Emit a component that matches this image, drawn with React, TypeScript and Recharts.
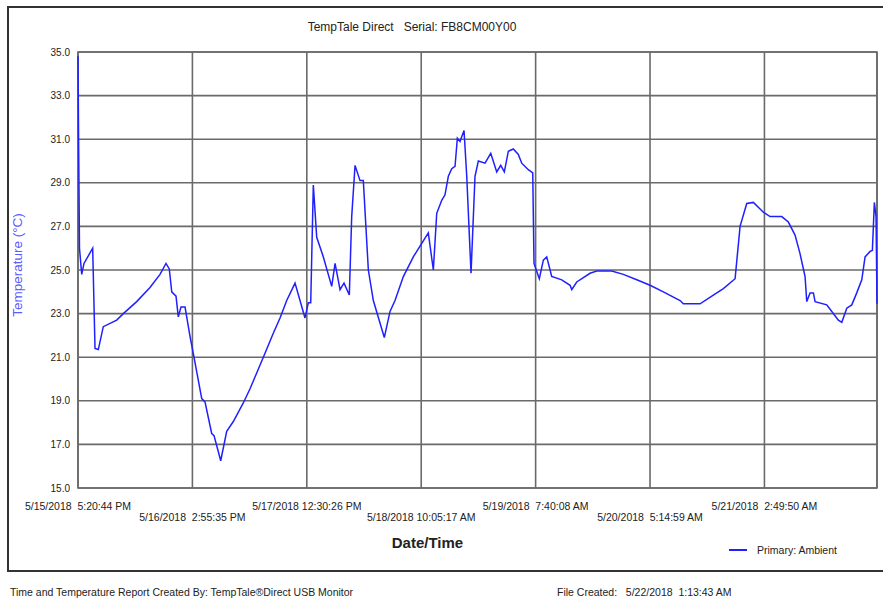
import React from 'react';
import {
  LineChart,
  Line,
  XAxis,
  YAxis,
  CartesianGrid,
  ReferenceArea,
  Label
} from 'recharts';

// hours since the first reading
const hours = [
  0, 0.11, 0.19, 0.28, 0.7, 1.13, 2.77, 3.21, 3.83, 4.77, 7.3, 8.55, 11.07, 13.58, 15.47, 16.6,
  17.22, 17.68, 18.49, 18.92, 19.43, 20.19, 21.13, 21.88, 23.34, 23.96, 25.22, 25.66, 26.92,
  28.05, 29.3, 31.18, 32.45, 34.96, 36.84, 38.11, 39.37, 40.94, 42.82, 43.45, 43.9, 44.39,
  45.03, 46.28, 47.86, 48.49, 49.43, 50.18, 51.18, 51.63, 52.26, 53.2, 53.82, 54.77, 55.71,
  57.78, 58.86, 59.8, 61.37, 63.25, 66.08, 67.03, 67.67, 68.61, 69.23, 69.86, 70.5, 71.12,
  71.56, 72.06, 72.82, 73.33, 74.14, 74.89, 75.52, 76.78, 77.86, 78.99, 79.74, 80.42, 81.18,
  82.12, 83.06, 83.7, 84.95, 85.78, 86.02, 87.02, 87.78, 88.42, 89.36, 91.25, 92.82, 93.14,
  94.08, 96.59, 97.85, 100.68, 102.87, 105.4, 107.91, 110.42, 113.57, 114.19, 117.34, 119.85,
  121.74, 123.95, 124.89, 126.15, 127.4, 129.28, 130.55, 132.75, 134.0, 135.26, 136.2, 137.15,
  137.47, 138.09, 138.72, 139.04, 141.24, 141.87, 143.43, 144.08, 145.02, 145.96, 146.9,
  147.85, 148.47, 149.41, 149.85, 150.22, 150.54, 150.72
];

// Primary: Ambient, degrees C
const ambient = [
  34.8, 31.0, 28.7, 26.0, 24.8, 25.3, 26.0, 21.4, 21.35, 22.4, 22.7, 23.0, 23.55, 24.2, 24.8, 25.3,
  25.05, 24.0, 23.8, 22.85, 23.3, 23.3, 21.95, 21.0, 19.1, 18.95, 17.5, 17.4, 16.25,
  17.6, 18.05, 18.9, 19.55, 21.0, 22.1, 22.8, 23.6, 24.4, 22.8, 23.5, 23.5, 28.9,
  26.5, 25.6, 24.25, 25.3, 24.1, 24.4, 23.85, 27.45, 29.8, 29.1, 29.1, 25.0, 23.6,
  21.9, 23.1, 23.6, 24.7, 25.6, 26.7, 25.0, 27.6, 28.2, 28.45, 29.3, 29.65, 29.75,
  31.05, 30.9, 31.4, 29.3, 24.85, 29.3, 30.0, 29.9, 30.35, 29.5, 29.8, 29.5, 30.45,
  30.55, 30.3, 29.9, 29.6, 29.45, 25.3, 24.6, 25.45, 25.6, 24.7, 24.55, 24.3, 24.1,
  24.45, 24.85, 24.95, 24.95, 24.8, 24.55, 24.3, 24.0, 23.6, 23.45, 23.45, 23.85,
  24.15, 24.6, 27.0, 28.05, 28.1, 27.65, 27.45, 27.45, 27.2, 26.6, 25.75, 24.7,
  23.55, 23.95, 23.95, 23.55, 23.4, 23.2, 22.7, 22.6, 23.25, 23.4, 23.95,
  24.55, 25.6, 25.85, 25.9, 28.1, 27.45, 23.45
];

const xTicks = [0, 21.581, 43.162, 64.743, 86.324, 107.905, 129.486];
const xTickLabels = [
  '5/15/2018  5:20:44 PM',
  '5/16/2018  2:55:35 PM',
  '5/17/2018 12:30:26 PM',
  '5/18/2018 10:05:17 AM',
  '5/19/2018  7:40:08 AM',
  '5/20/2018  5:14:59 AM',
  '5/21/2018  2:49:50 AM'
];
const yTicks = [15, 17, 19, 21, 23, 25, 27, 29, 31, 33, 35];

const data = hours.map((h, i) => ({ h, temp: ambient[i] }));

const FONT = 'Liberation Sans, Arial, sans-serif';

const StaggeredTick = (props: any) => {
  const { x, y, payload, index } = props;
  const dy = index % 2 === 0 ? 13.5 : 24.5;
  return (
    <text
      x={x}
      y={y + dy}
      textAnchor="middle"
      fontSize={10.5}
      fill="#222"
      fontFamily={FONT}
      style={{ whiteSpace: 'pre' }}
    >
      {xTickLabels[xTicks.indexOf(payload.value)] ?? ''}
    </text>
  );
};

const App = () => {
  return (
    <div style={{ position: 'absolute', left: 0, top: 0, width: 883, height: 600, background: '#fff', fontFamily: FONT }}>
      {/* outer frame */}
      <div style={{ position: 'absolute', left: 7, top: 6, width: 880, height: 566, border: '2px solid #333', boxSizing: 'border-box' }} />

      <div style={{ position: 'absolute', left: 0, width: 824, top: 20, textAlign: 'center', fontSize: 12, color: '#222', whiteSpace: 'pre' }}>
        {'TempTale Direct   Serial: FB8CM00Y00'}
      </div>

      <LineChart
        width={883}
        height={600}
        data={data}
        margin={{ top: 52, right: 6, bottom: 72, left: 38 }}
        style={{ position: 'absolute', left: 0, top: 0 }}
      >
        <CartesianGrid stroke="#6a6a6a" strokeWidth={1.6} />
        <XAxis
          type="number"
          dataKey="h"
          domain={[0, 150.72]}
          ticks={xTicks}
          interval={0}
          tick={<StaggeredTick />}
          tickLine={false}
          axisLine={false}
          height={40}
        >
          <Label
            value="Date/Time"
            position="insideBottom"
            offset={-20}
            dx={-50}
            style={{ fontSize: 15, fontWeight: 600, fill: '#222', fontFamily: FONT }}
          />
        </XAxis>
        <YAxis
          type="number"
          domain={[15, 35]}
          ticks={yTicks}
          interval={0}
          tickFormatter={(v: number) => v.toFixed(1)}
          tick={{ fontSize: 10, fill: '#222', fontFamily: FONT }}
          tickLine={false}
          axisLine={false}
          tickMargin={2}
          width={40}
        >
          <Label
            value="Temperature (°C)"
            angle={-90}
            position="center"
            dx={-41}
            dy={-5}
            style={{ fontSize: 13.5, fill: '#5a5aff', fontFamily: FONT }}
          />
        </YAxis>
        <ReferenceArea x1={0} x2={150.72} y1={15} y2={35} fill="none" stroke="#6a6a6a" strokeWidth={1.6} ifOverflow="visible" />
        <Line
          type="linear"
          dataKey="temp"
          stroke="#2020ff"
          strokeWidth={1.5}
          dot={false}
          isAnimationActive={false}
        />
      </LineChart>

      {/* legend */}
      <div style={{ position: 'absolute', left: 729, top: 544, display: 'flex', alignItems: 'center', fontSize: 10.5, color: '#222' }}>
        <span style={{ display: 'inline-block', width: 18, height: 2, background: '#2020ff', marginRight: 10 }} />
        <span>Primary: Ambient</span>
      </div>

      {/* footer */}
      <div style={{ position: 'absolute', left: 10, top: 586, fontSize: 10.5, color: '#222', whiteSpace: 'pre' }}>
        {'Time and Temperature Report Created By: TempTale®Direct USB Monitor'}
      </div>
      <div style={{ position: 'absolute', left: 557, top: 586, fontSize: 10.5, color: '#222', whiteSpace: 'pre' }}>
        {'File Created:   5/22/2018  1:13:43 AM'}
      </div>
    </div>
  );
};

export default App;
